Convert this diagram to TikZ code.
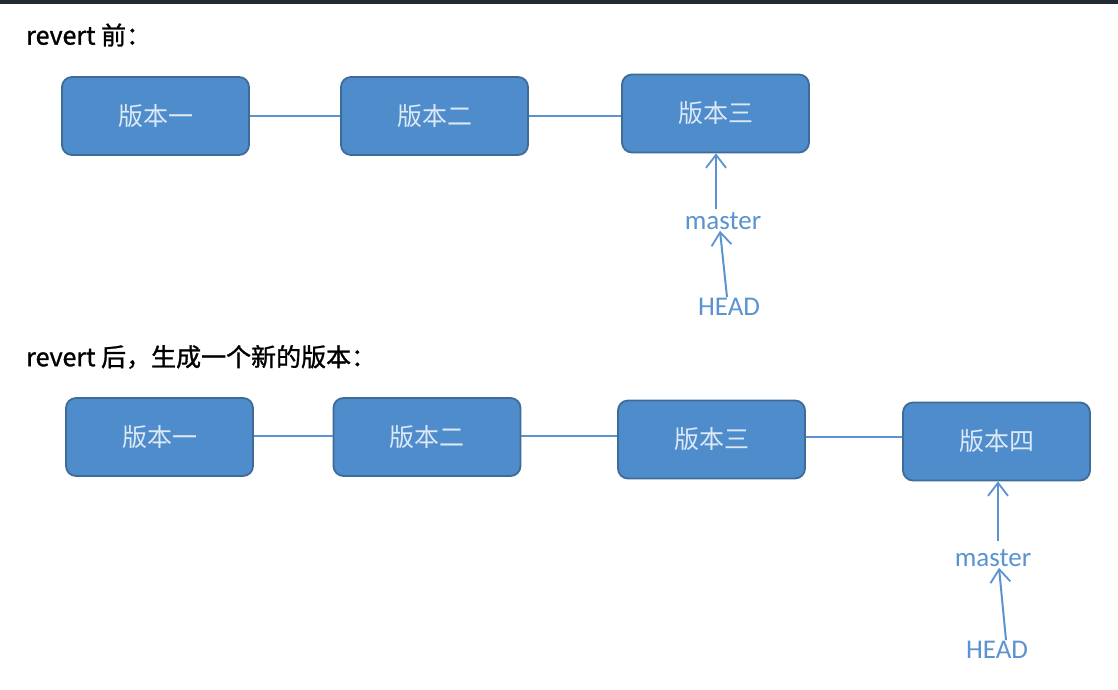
\documentclass[tikz,border=0pt]{standalone}
\usepackage{fontspec}
\usetikzlibrary{arrows.meta}
\setmainfont{Carlito}
\newfontfamily\cjk{Noto Sans CJK SC}
\newfontfamily\cjkb{Noto Sans CJK SC}[FakeBold=1.2]
\definecolor{boxfill}{HTML}{4F8CCB}
\definecolor{boxedge}{HTML}{3E6C98}
\definecolor{boxtext}{HTML}{DCE8F6}
\definecolor{refblue}{HTML}{5A93D0}
\definecolor{barcol}{HTML}{1F2A33}
\tikzset{
  ver/.style={draw=boxedge, line width=1.8pt, fill=boxfill, rounded corners=10pt,
    minimum width=187pt, minimum height=78pt, inner sep=0pt,
    text=boxtext, font=\cjk\fontsize{25}{25}\selectfont},
  link/.style={draw=refblue, line width=1.6pt},
  ptr/.style={draw=refblue, line width=2pt, -{Straight Barb[length=13pt,width=20pt,line width=1.8pt]}},
  lbl/.style={text=refblue, font=\fontsize{27}{27}\selectfont, inner sep=1pt},
  head/.style={anchor=west, text=black, font=\cjkb\fontsize{25}{25}\selectfont, inner sep=0pt}
}
\begin{document}
\begin{tikzpicture}[x=1pt,y=-1pt]
\useasboundingbox (0,0) rectangle (1118,689);
\fill[white] (0,0) rectangle (1118,689);
\fill[barcol] (0,0) rectangle (1118,3.5);
% top
\node[head] (h1) at (26,35) {revert 前：};
\node[ver] (a1) at (155.5,116) {版本一};
\node[ver] (a2) at (434.5,116) {版本二};
\node[ver] (a3) at (715.5,113.5) {版本三};
\draw[link] (a1.east |- 0,116) -- (a2.west |- 0,116);
\draw[link] (a2.east |- 0,116) -- (a3.west |- 0,116);
\node[lbl] (m1) at (723,221) {master};
\node[lbl] (hd1) at (729,307) {HEAD};
\draw[ptr] (716,209) -- (a3.south -| 716,0);
\draw[ptr] (hd1.north -| 727,0) -- (m1.south -| 720,0);
% bottom
\node[head] (h2) at (26,357) {revert 后，生成一个新的版本：};
\node[ver] (b1) at (159.5,437) {版本一};
\node[ver] (b2) at (427,437) {版本二};
\node[ver] (b3) at (711.5,439.5) {版本三};
\node[ver] (b4) at (996.5,441.5) {版本四};
\draw[link] (b1.east |- 0,436) -- (b2.west |- 0,436);
\draw[link] (b2.east |- 0,436) -- (b3.west |- 0,436);
\draw[link] (b3.east |- 0,437) -- (b4.west |- 0,437);
\node[lbl] (m2) at (993,558) {master};
\node[lbl] (hd2) at (997,650) {HEAD};
\draw[ptr] (998,541) -- (b4.south -| 998,0);
\draw[ptr] (hd2.north -| 1006,0) -- (m2.south -| 999,0);
\end{tikzpicture}
\end{document}
